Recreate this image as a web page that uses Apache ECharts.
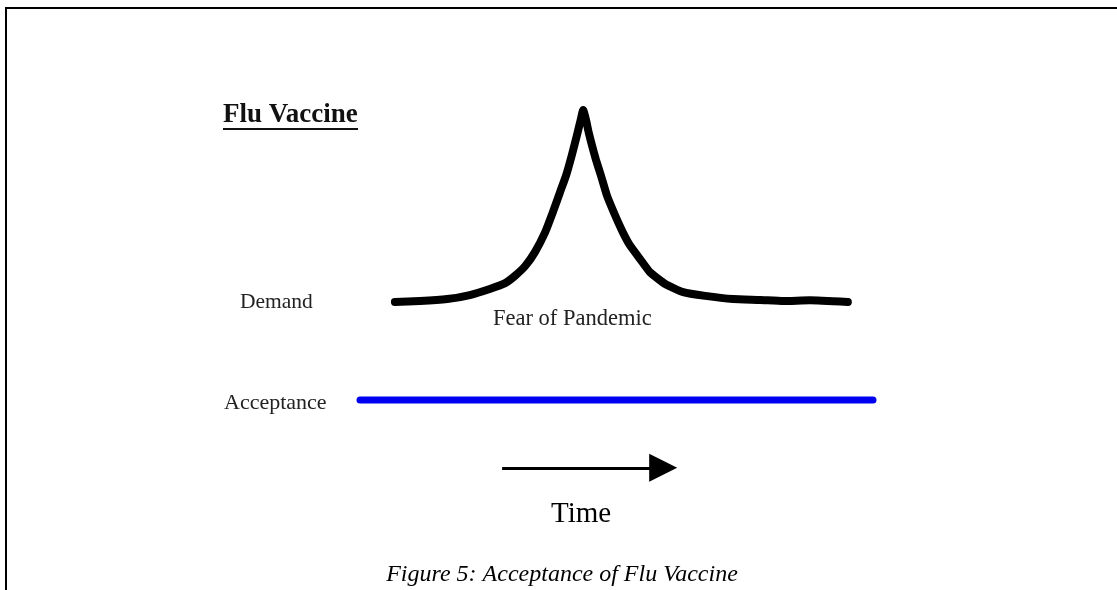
<!DOCTYPE html>
<html>
<head>
<meta charset="utf-8">
<script src="https://cdn.jsdelivr.net/npm/echarts@6/dist/echarts.min.js"></script>
<style>
  html, body { margin: 0; padding: 0; background: #fff; }
  #chart { width: 1117px; height: 590px; }
</style>
</head>
<body>
<div id="chart"></div>
<script>
// time runs 0..100 across the plot, level 0 = acceptance line, 100 = peak of demand
const demandTime = [6.8, 11.7, 17.0, 21.4, 25.3, 28.3, 30.2, 32.2, 34.1, 36.1, 37.6, 39.0, 40.2, 41.3, 42.3, 43.1, 43.5,
  44.1, 44.6, 45.2, 46.0, 47.0, 48.1, 49.7, 51.3, 52.6, 54.6, 56.5, 59.5, 63.0, 67.3, 72.7, 78.0, 82.5, 87.7, 95.1];
const demandLevel = [33.8, 34.1, 34.8, 36.2, 38.3, 40.3, 42.8, 46.2, 51.0, 57.9, 64.8, 71.7, 77.6, 84.5, 91.4, 97.2, 100,
  96.2, 92.1, 87.9, 82.8, 77.2, 70.7, 63.8, 57.6, 53.4, 48.6, 44.1, 40.0, 37.2, 35.9, 34.8, 34.5, 34.1, 34.4, 33.8];
const acceptanceTime = [0, 100];
const acceptanceLevel = [0, 0];
const timeArrow = [[27.7, -23.4], [59.1, -23.4]];

const serif = '"Liberation Serif", "DejaVu Serif", serif';

const chart = echarts.init(document.getElementById('chart'));

const option = {
  backgroundColor: '#fff',
  animation: false,
  grid: { left: 360, top: 110, width: 513, height: 377 },
  xAxis: { type: 'value', min: 0, max: 100, show: false },
  yAxis: { type: 'value', min: -30, max: 100, show: false },
  series: [
    {
      name: 'Demand',
      type: 'line',
      data: demandTime.map((t, i) => [t, demandLevel[i]]),
      smooth: 0.15,
      symbol: 'none',
      lineStyle: { color: '#000', width: 8, cap: 'round', join: 'round' }
    },
    {
      name: 'Acceptance',
      type: 'line',
      data: acceptanceTime.map((t, i) => [t, acceptanceLevel[i]]),
      symbol: 'none',
      lineStyle: { color: '#0000f0', width: 7, cap: 'round' }
    },
    {
      name: 'Time',
      type: 'lines',
      coordinateSystem: 'cartesian2d',
      symbol: ['none', 'triangle'],
      symbolSize: 28,
      lineStyle: { color: '#000', width: 3, opacity: 1 },
      data: [{ coords: timeArrow }]
    }
  ],
  graphic: [
    {
      type: 'polyline',
      shape: { points: [[6, 590], [6, 8], [1117, 8]] },
      style: { stroke: '#000', lineWidth: 2, fill: null }
    },
    {
      type: 'text', left: 223, top: 102,
      style: { text: 'Flu Vaccine', font: 'bold 27px ' + serif, fill: '#111' }
    },
    {
      type: 'rect', shape: { x: 223, y: 128, width: 135, height: 2 },
      style: { fill: '#111' }
    },
    {
      type: 'text', left: 240, top: 291,
      style: { text: 'Demand', font: '21.5px ' + serif, fill: '#222' }
    },
    {
      type: 'text', left: 224, top: 392,
      style: { text: 'Acceptance', font: '22px ' + serif, fill: '#222' }
    },
    {
      type: 'text', left: 493, top: 308,
      style: { text: 'Fear of Pandemic', font: '22.5px ' + serif, fill: '#222' }
    },
    {
      type: 'text', left: 551, top: 500,
      style: { text: 'Time', font: '29px ' + serif, fill: '#000' }
    },
    {
      type: 'text', x: 562, y: 563,
      style: { text: 'Figure 5: Acceptance of Flu Vaccine', font: 'italic 24px ' + serif, fill: '#000', align: 'center' }
    }
  ]
};

chart.setOption(option);
</script>
</body>
</html>
